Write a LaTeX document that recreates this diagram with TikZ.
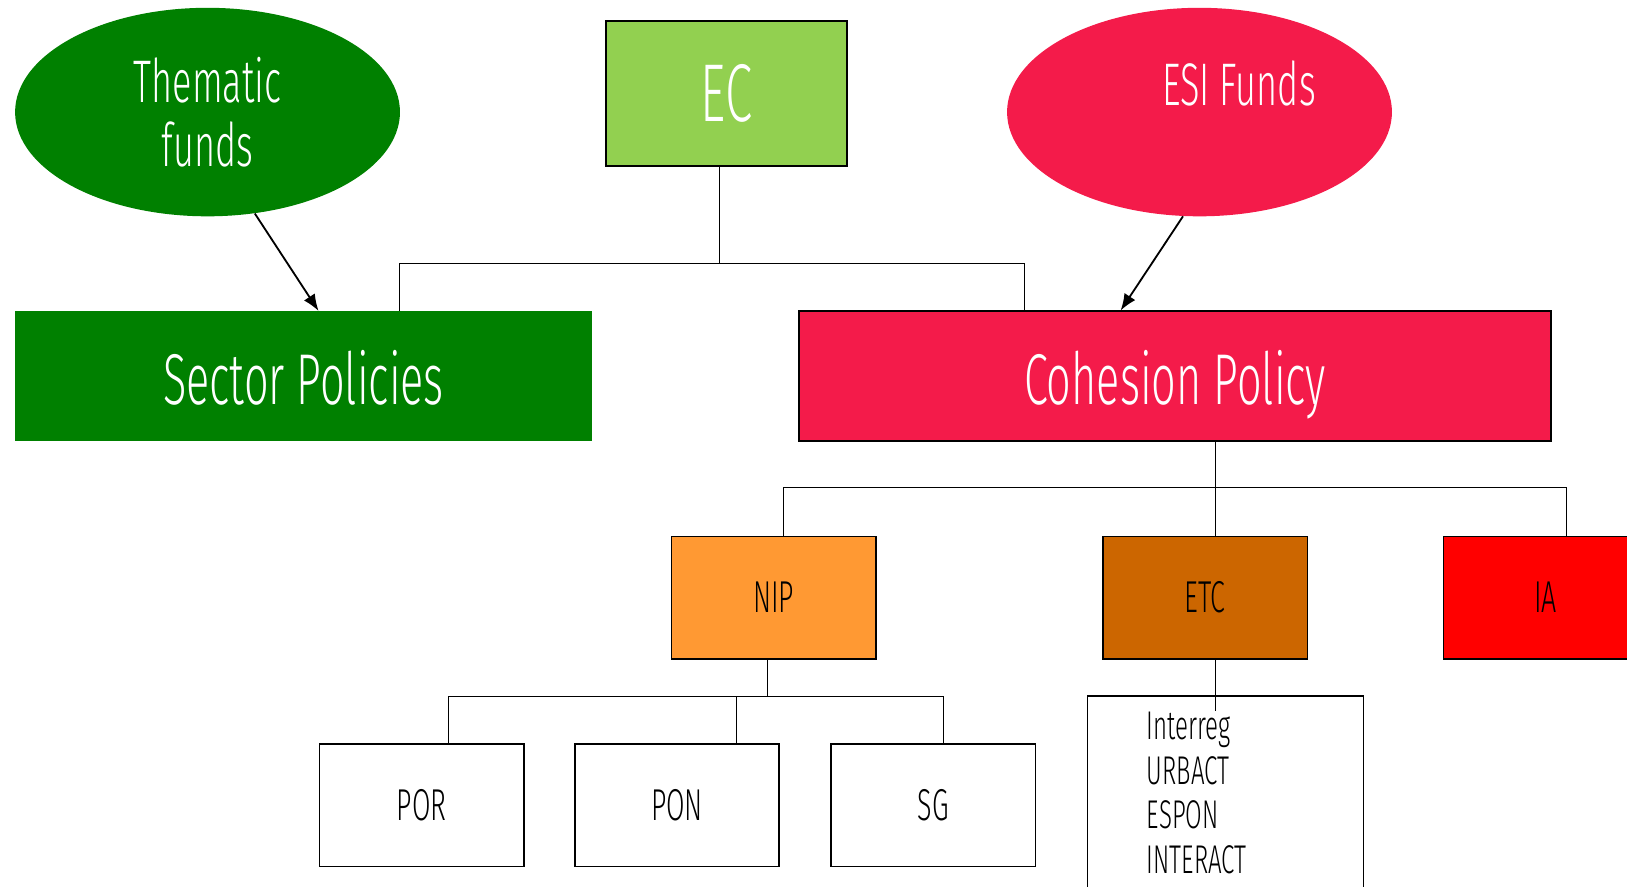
\documentclass[tikz,border=0pt]{standalone}
\usepackage{fontspec}
\setmainfont{Fira Sans Light}[FakeStretch=0.6]
\usetikzlibrary{arrows.meta}
\usetikzlibrary{shapes.geometric}
\definecolor{darkgreen}{RGB}{0, 128, 0}
\definecolor{lightgreen}{RGB}{146, 208, 80}
\definecolor{crimson}{RGB}{244, 27, 74}
\definecolor{niporange}{RGB}{255, 153, 51}
\definecolor{etcbrown}{RGB}{204, 102, 0}
\definecolor{iared}{RGB}{255, 0, 0}

\begin{document}
\begin{tikzpicture}[x = 0.02cm, y = -0.02cm,
			fund/.style = {ellipse, inner sep = 0pt, minimum width = 7.42cm, minimum height = 4.02cm, text = white, font = \fontsize{33}{35}\selectfont},
			policy/.style = {rectangle, inner sep = 0pt, minimum height = 2.5cm, text height = 1.2cm, text depth = 0.1cm, text = white, font = \fontsize{39.5}{44}\selectfont},
			prog/.style = {rectangle, draw = black, line width = 0.9pt, inner sep = 0pt, minimum width = 3.94cm, minimum height = 2.36cm, font = \fontsize{24.5}{28}\selectfont},
			link/.style = {line width = 0.6pt},
			feed/.style = {line width = 1pt, -{Latex[length = 0.32cm, width = 0.25cm]}}]
			\useasboundingbox (0,0) rectangle (1568,854);
			% top row
			\node (thematic) at (200,108) [fund, fill = darkgreen, align = center] {Thematic\\funds};
			\node (ec) at (700,90) [rectangle, draw = black, line width = 0.9pt, fill = lightgreen, minimum width = 4.64cm, minimum height = 2.8cm, text = white, font = \fontsize{45}{50}\selectfont] {EC};
			\node (esi) at (1156,108) [fund, fill = crimson] {};
			\node (esitext) at (1194,80) [text = white, font = \fontsize{33}{35}\selectfont] {ESI Funds};
			% policies
			\node (sector) at (292.5,362.5) [policy, fill = darkgreen, minimum width = 11.14cm] {Sector Policies};
			\node (cohesion) at (1132.5,362.5) [policy, draw = black, line width = 0.9pt, fill = crimson, minimum width = 14.5cm] {Cohesion Policy};
			% cohesion branches
			\node (nip) at (745.5,576) [prog, fill = niporange] {NIP};
			\node (etc) at (1161.5,576) [prog, fill = etcbrown] {ETC};
			\node (ia) at (1489.5,576) [prog, fill = iared] {IA};
			% nip branches
			\node (por) at (406.5,776) [prog] {POR};
			\node (pon) at (652.5,776) [prog] {PON};
			\node (sg) at (899.5,776) [prog] {SG};
			\node (etclist) at (1181,785.5) [rectangle, draw = black, line width = 0.9pt, minimum width = 5.32cm, minimum height = 4.58cm] {};
			\node (etcprogs) at (1105,686) [anchor = north west, inner sep = 0pt, align = left, font = \fontsize{22}{24.4}\selectfont] {Interreg\\URBACT\\ESPON\\INTERACT};
			% connectors
			\draw[link] (ec.south -| 693,0) -- (693,254) coordinate (ecbar);
			\draw[link] (sector.north -| 385,0) |- (ecbar) -| (cohesion.north -| 987,0);
			\draw[feed] (thematic.-65) -- (sector.north -| 307,0);
			\draw[feed] (esi.-99) -- (cohesion.north -| 1080,0);
			\draw[link] (cohesion.south -| 1171,0) -- (etc.north -| 1171,0);
			\coordinate (cpbar) at (1171,470);
			\draw[link] (nip.north -| 755,0) |- (cpbar) -| (ia.north -| 1510,0);
			\draw[link] (nip.south -| 740,0) -- (740,671) coordinate (nipbar);
			\draw[link] (por.north -| 432,0) |- (nipbar) -| (sg.north -| 909,0);
			\draw[link] (pon.north -| 710,0) -- (nipbar -| 710,0);
			\coordinate (etcend) at (1171,685);
			\draw[link] (etc.south -| 1171,0) -- (etcend);
			\end{tikzpicture}
\end{document}
